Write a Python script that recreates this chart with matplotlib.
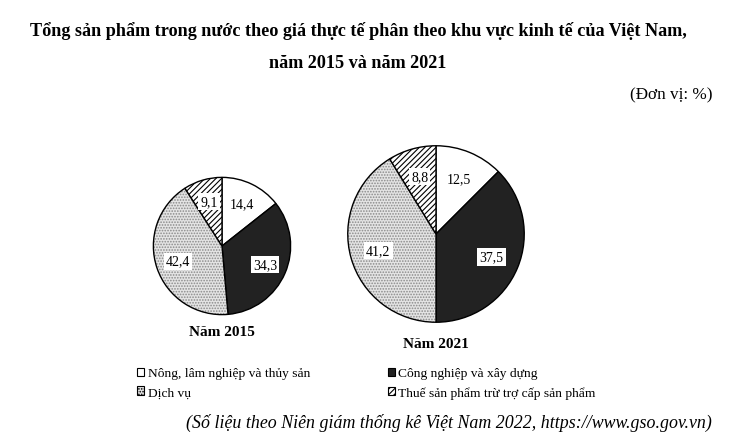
import matplotlib
matplotlib.use("Agg")
import matplotlib.pyplot as plt
from matplotlib.patches import Patch

plt.rcParams['font.family'] = ['Liberation Serif', 'DejaVu Serif']
plt.rcParams['hatch.linewidth'] = 0.8

# data (%)
sectors = ['Nông, lâm nghiệp và thủy sản', 'Công nghiệp và xây dựng',
           'Dịch vụ', 'Thuế sản phẩm trừ trợ cấp sản phẩm']
val_2015 = [14.4, 34.3, 42.4, 9.1]
val_2021 = [12.5, 37.5, 41.2, 8.8]
years = ['Năm 2015', 'Năm 2021']

faces = ['white', '#222222', '#e4e4e4', 'white']
hatches = [None, None, '......', '//////']
hatch_cols = ['black', 'black', '#8a8a8a', 'black']

W, H = 754, 439
fig = plt.figure(figsize=(W / 100, H / 100), dpi=100)


def px_axes(cx, cy, r):
    # axes box in pixel coords (top-left origin) -> figure fraction
    return fig.add_axes([(cx - r) / W, 1 - (cy + r) / H, 2 * r / W, 2 * r / H])


def draw_pie(ax, vals, label, label_y):
    wedges, texts = ax.pie(vals, startangle=90, counterclock=False,
                           labels=[f'{v:.1f}'.replace('.', ',') for v in vals],
                           labeldistance=0.68, radius=1,
                           wedgeprops=dict(edgecolor='black', linewidth=1.0))
    for w, fc, h, hc in zip(wedges, faces, hatches, hatch_cols):
        w.set_facecolor(fc)
        if h:
            w.set_hatch(h)
            w._hatch_color = matplotlib.colors.to_rgba(hc)
    for t in texts:
        t.set_ha('center')
        t.set_va('center')
        t.set_fontsize(10)
        t.set_bbox(dict(facecolor='white', edgecolor='none', pad=1.5))
    ax.set_xlim(-1.02, 1.02)
    ax.set_ylim(-1.02, 1.02)
    ax.set_aspect('equal')
    ax.axis('off')
    fig.text(ax.get_position().x0 + ax.get_position().width / 2, 1 - label_y / H,
             label, ha='center', va='center', fontsize=11, fontweight='bold')


ax1 = px_axes(222, 247, 70)
draw_pie(ax1, val_2015, years[0], 333)
ax2 = px_axes(436, 235, 90)
draw_pie(ax2, val_2021, years[1], 345)

fig.text(358 / W, 1 - 31 / H,
         'Tổng sản phẩm trong nước theo giá thực tế phân theo khu vực kinh tế của Việt Nam,',
         ha='center', va='center', fontsize=13.1, fontweight='bold')
fig.text(358 / W, 1 - 63 / H, 'năm 2015 và năm 2021',
         ha='center', va='center', fontsize=13.1, fontweight='bold')
fig.text(712 / W, 1 - 95 / H, '(Đơn vị: %)', ha='right', va='center', fontsize=12.3)
fig.text(712 / W, 1 - 423 / H,
         '(Số liệu theo Niên giám thống kê Việt Nam 2022, https://www.gso.gov.vn)',
         ha='right', va='center', fontsize=12.9, style='italic')

handles = []
for fc, h, hc in zip(faces, hatches, hatch_cols):
    p = Patch(facecolor=fc, edgecolor='black', linewidth=0.8, hatch=h)
    handles.append(p)
order = [0, 2, 1, 3]
leg = fig.legend([handles[i] for i in order], [sectors[i] for i in order],
                 ncol=2, loc='upper left', bbox_to_anchor=(137 / W, 1 - 368.5 / H),
                 frameon=False, fontsize=9.7, handlelength=0.55, handleheight=0.55,
                 handletextpad=0.25, columnspacing=5.75, labelspacing=0.5,
                 borderaxespad=0, borderpad=0)

fig.savefig('out.png', dpi=100)
